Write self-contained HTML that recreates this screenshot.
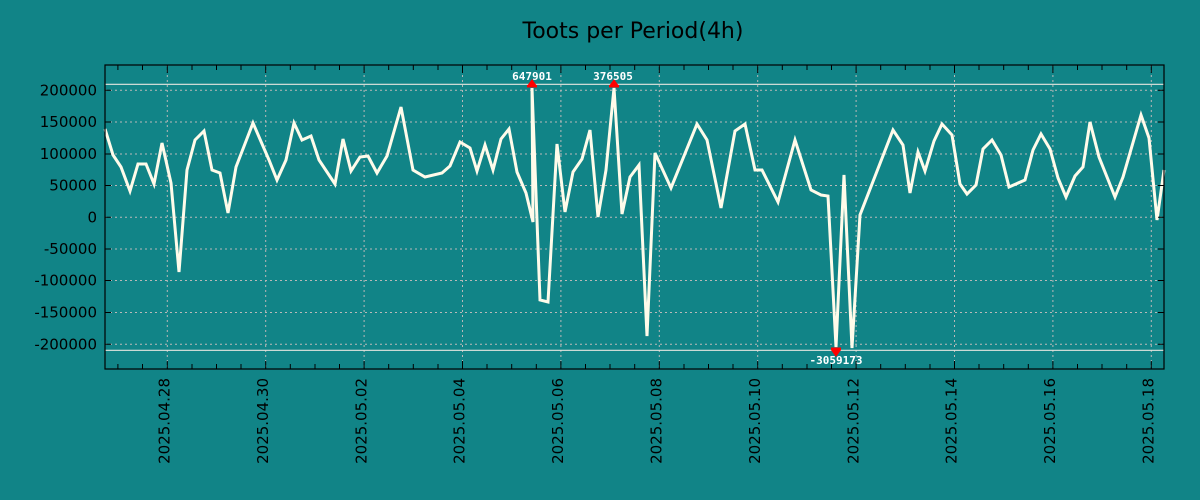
<!DOCTYPE html>
<html><head><meta charset="utf-8"><style>
html,body{margin:0;padding:0;background:#118487;}
svg{display:block;font-family:"DejaVu Sans","Liberation Sans",sans-serif;}
</style></head><body>
<svg width="1200" height="500" viewBox="0 0 1200 500" xmlns="http://www.w3.org/2000/svg">
<rect width="1200" height="500" fill="#118487"/>
<text x="633" y="38" font-size="22" text-anchor="middle" fill="#000">Toots per Period(4h)</text>
<g stroke="#b9b9b9" stroke-width="1" stroke-dasharray="2,3">
<line x1="105" x2="1164" y1="90.3" y2="90.3"/><line x1="105" x2="1164" y1="122" y2="122"/>
<line x1="105" x2="1164" y1="154" y2="154"/><line x1="105" x2="1164" y1="185.5" y2="185.5"/>
<line x1="105" x2="1164" y1="217.3" y2="217.3"/><line x1="105" x2="1164" y1="249" y2="249"/>
<line x1="105" x2="1164" y1="280.5" y2="280.5"/><line x1="105" x2="1164" y1="312.5" y2="312.5"/>
<line x1="105" x2="1164" y1="344.3" y2="344.3"/>
<line x1="167.3" x2="167.3" y1="65" y2="369"/><line x1="265.7" x2="265.7" y1="65" y2="369"/>
<line x1="364.1" x2="364.1" y1="65" y2="369"/><line x1="462.5" x2="462.5" y1="65" y2="369"/>
<line x1="560.9" x2="560.9" y1="65" y2="369"/><line x1="659.3" x2="659.3" y1="65" y2="369"/>
<line x1="757.7" x2="757.7" y1="65" y2="369"/><line x1="856.1" x2="856.1" y1="65" y2="369"/>
<line x1="954.5" x2="954.5" y1="65" y2="369"/><line x1="1052.9" x2="1052.9" y1="65" y2="369"/>
<line x1="1151.3" x2="1151.3" y1="65" y2="369"/>
</g>
<line x1="105" x2="1164" y1="84.3" y2="84.3" stroke="#e6e6e0" stroke-width="1.2"/>
<line x1="105" x2="1164" y1="350.3" y2="350.3" stroke="#e6e6e0" stroke-width="1.2"/>
<polyline fill="none" stroke="#fffbea" stroke-width="3" stroke-linejoin="miter" points="
105,129 113,155 121,167 130,191 138,164 146,164 154,184 162,143 171,183 179,272 187,170 195,140 204,131 212,170 220,173 228,213 236,167 253,123 269,160 277,180 286,160 294,123
302,140 311,136 319,160 335,184 343,139 351,171 360,157 368,156 377,173 387,156 401,107 413,170 425,177 442,173 450,166 460,142 470,148 477,171 485,145 493,170 501,139 509,129 517,172 526,193 533,222 532,88 540,300 548,302 557,144
565,212 573,172 582,159 590,130 598,217 606,170 614,88 622,214 630,177 639,165 647,336 655,153 671,188 697,124 707,140 721,208 735,131 745,124 755,170 762,170 778,202 795,140
811,190 821,195 828,196 836,347 844,175 852,348 860,215 893,130 903,145 910,193 918,152 925,171 934,141 942,124 952,135 960,184 967,194
976,185 983,149 992,140 1001,155 1009,187 1025,180 1033,150 1041,134 1050,149 1058,178 1066,197 1075,176 1083,167 1090,122 1099,157 1115,197 1123,177 1141,115 1149,138 1157,220 1164,170"/>
<rect x="105" y="65" width="1059" height="304" fill="none" stroke="#000" stroke-width="1.2"/>
<g stroke="#000" stroke-width="1">
<path d="M117.9 369v-5M142.5 369v-5M167.3 369v-8M192 369v-5M216.5 369v-5M241 369v-5M265.7 369v-8M290.3 369v-5M315 369v-5M339.5 369v-5M364.1 369v-8M388.7 369v-5M413.3 369v-5M438 369v-5M462.5 369v-8M487 369v-5M511.7 369v-5M536.3 369v-5M560.9 369v-8M585.5 369v-5M610 369v-5M634.7 369v-5M659.3 369v-8M684 369v-5M708.5 369v-5M733 369v-5M757.7 369v-8M782.3 369v-5M807 369v-5M831.5 369v-5M856.1 369v-8M880.7 369v-5M905.3 369v-5M930 369v-5M954.5 369v-8M979 369v-5M1003.7 369v-5M1028.3 369v-5M1052.9 369v-8M1077.5 369v-5M1102 369v-5M1126.7 369v-5M1151.3 369v-8"/>
<path d="M117.9 65v5M142.5 65v5M167.3 65v8M192 65v5M216.5 65v5M241 65v5M265.7 65v8M290.3 65v5M315 65v5M339.5 65v5M364.1 65v8M388.7 65v5M413.3 65v5M438 65v5M462.5 65v8M487 65v5M511.7 65v5M536.3 65v5M560.9 65v8M585.5 65v5M610 65v5M634.7 65v5M659.3 65v8M684 65v5M708.5 65v5M733 65v5M757.7 65v8M782.3 65v5M807 65v5M831.5 65v5M856.1 65v8M880.7 65v5M905.3 65v5M930 65v5M954.5 65v8M979 65v5M1003.7 65v5M1028.3 65v5M1052.9 65v8M1077.5 65v5M1102 65v5M1126.7 65v5M1151.3 65v8"/>
<path d="M105 90.3h6M105 122h6M105 154h6M105 185.5h6M105 217.3h6M105 249h6M105 280.5h6M105 312.5h6M105 344.3h6M1164 90.3h-6M1164 122h-6M1164 154h-6M1164 185.5h-6M1164 217.3h-6M1164 249h-6M1164 280.5h-6M1164 312.5h-6M1164 344.3h-6"/>
</g>
<g font-size="15" fill="#000" text-anchor="end">
<text x="97" y="95.5">200000</text><text x="97" y="127">150000</text><text x="97" y="159">100000</text>
<text x="97" y="190.5">50000</text><text x="97" y="222.5">0</text><text x="97" y="254">-50000</text>
<text x="97" y="285.5">-100000</text><text x="97" y="317.5">-150000</text><text x="97" y="349.5">-200000</text>
</g>
<g font-size="15" fill="#000" text-anchor="end">
<text transform="translate(169.5,378) rotate(-90)">2025.04.28</text>
<text transform="translate(267.9,378) rotate(-90)">2025.04.30</text>
<text transform="translate(366.3,378) rotate(-90)">2025.05.02</text>
<text transform="translate(464.7,378) rotate(-90)">2025.05.04</text>
<text transform="translate(563.1,378) rotate(-90)">2025.05.06</text>
<text transform="translate(661.5,378) rotate(-90)">2025.05.08</text>
<text transform="translate(759.9,378) rotate(-90)">2025.05.10</text>
<text transform="translate(858.3,378) rotate(-90)">2025.05.12</text>
<text transform="translate(956.7,378) rotate(-90)">2025.05.14</text>
<text transform="translate(1055.1,378) rotate(-90)">2025.05.16</text>
<text transform="translate(1153.5,378) rotate(-90)">2025.05.18</text>
</g>
<g fill="#ff0000">
<polygon points="527,86 532,79 537,86"/><rect x="527" y="85" width="10" height="2.5"/>
<polygon points="609,86 614,79 619,86"/><rect x="609" y="85" width="10" height="2.5"/>
<polygon points="831,350 836,357 841,350"/><rect x="831" y="347.5" width="10" height="2.5"/>
</g>
<g font-family="'DejaVu Sans Mono','Liberation Mono',monospace" font-size="11" font-weight="bold" fill="#fff" text-anchor="middle">
<text x="532" y="80">647901</text>
<text x="613" y="80">376505</text>
<text x="836" y="364">-3059173</text>
</g>
</svg>
</body></html>
